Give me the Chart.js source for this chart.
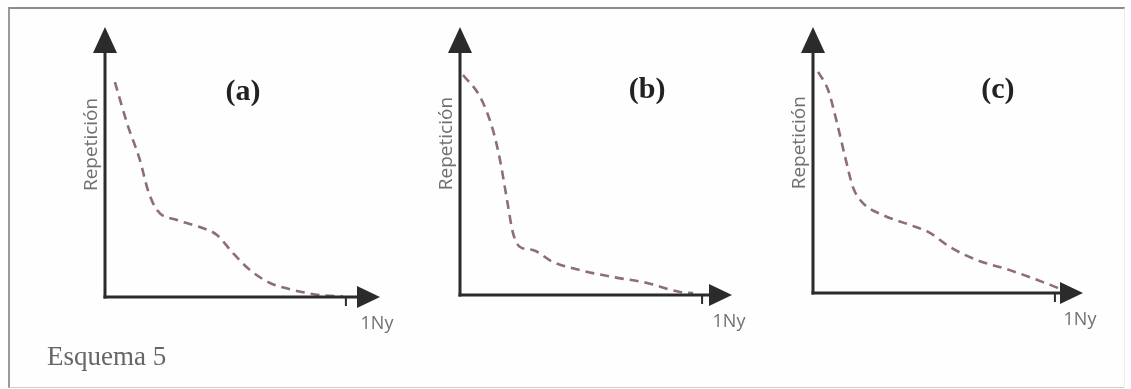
<!DOCTYPE html>
<html>
<head>
<meta charset="utf-8">
<script src="https://cdn.jsdelivr.net/npm/chart.js@4/dist/chart.umd.min.js"></script>
<style>
  html, body { margin: 0; padding: 0; background: #ffffff; }
  #stage { position: relative; width: 1131px; height: 389px; overflow: hidden; background: #fefefe; }
  #frame {
    position: absolute; left: 8px; top: 7px; width: 1114px; height: 378px;
    border-top: 2px solid #8c8c8c; border-left: 2px solid #9a9a9a;
    border-bottom: 1px solid #cfcfcf; border-right: 1px solid #ececec;
  }
  canvas { position: absolute; left: 0; top: 0; }
  #caption {
    position: absolute; left: 47px; top: 341px;
    font-family: "Liberation Serif", serif; font-size: 27px; color: #666666;
    line-height: 30px; white-space: nowrap;
  }
</style>
</head>
<body>
<div id="stage">
  <div id="frame"></div>
  <canvas id="chartA" width="1131" height="389"></canvas>
  <canvas id="chartB" width="1131" height="389"></canvas>
  <canvas id="chartC" width="1131" height="389"></canvas>
  <div id="caption">Esquema 5</div>
</div>
<script>
// Texts of the scheme
const panelLabels = ['(a)', '(b)', '(c)'];
const yAxisTitle = 'Repetición';
const xEndLabel = '1Ny';
const captionText = 'Esquema 5';

// Curve (a): repetition against position, with a shoulder in the middle
const curveAx = [3.6, 8.0, 12.7, 15.6, 18.9, 26.2, 34.5, 40.7, 46.5, 52.7, 60.0, 68.4, 78.2, 86.5];
const curveAy = [79.6, 64.4, 50.7, 39.6, 32.2, 28.5, 25.9, 23.0, 16.3, 10.0, 5.2, 2.6, 0.7, 0.2];

// Curve (b): steep drop then a long flat tail
const curveBx = [1.1, 7.4, 12.1, 14.7, 17.3, 19.5, 22.1, 26.8, 34.2, 44.1, 56.3, 68.8, 80.9, 85.7];
const curveBy = [82.1, 73.9, 61.6, 50.4, 35.4, 23.1, 17.9, 16.8, 12.3, 9.3, 6.7, 4.5, 1.1, 0.7];

// Curve (c): steep drop then a gradual decline
const curveCx = [1.9, 5.6, 8.9, 11.9, 14.8, 18.5, 25.9, 35.9, 43.3, 50.7, 60.7, 72.9, 85.2, 92.6];
const curveCy = [83.1, 76.3, 63.9, 51.1, 39.8, 33.8, 29.3, 25.6, 22.6, 17.3, 12.4, 8.6, 4.1, 1.1];

// Position of the "1Ny" tick on each x axis (axis units)
const tickValues = [87.6, 89.0, 89.6];

document.getElementById('caption').textContent = captionText;

// Placement of each panel's plot area on the page (pixels) and of its label
const panels = [
  { id: 'chartA', area: { left: 105, top: 27, right: 380, bottom: 297 }, labelAt: [50.2, 75.9], xs: curveAx, ys: curveAy },
  { id: 'chartB', area: { left: 460, top: 27, right: 732, bottom: 295 }, labelAt: [68.8, 76.5], xs: curveBx, ys: curveBy },
  { id: 'chartC', area: { left: 813, top: 27, right: 1083, bottom: 293 }, labelAt: [68.5, 76.3], xs: curveCx, ys: curveCy }
];

const AXIS_COLOR = '#2b2b2b';
const CURVE_COLOR = '#8e6d75';

// Draws the arrowed axes, the end tick and the panel texts
const schemePlugin = {
  id: 'scheme',
  afterDatasetsDraw(chart, args, opts) {
    const ctx = chart.ctx;
    const xs = chart.scales.x, ys = chart.scales.y;
    const x0 = xs.getPixelForValue(0), y0 = ys.getPixelForValue(0);
    const xTip = xs.getPixelForValue(100), yTip = ys.getPixelForValue(100);
    ctx.save();
    ctx.strokeStyle = AXIS_COLOR;
    ctx.fillStyle = AXIS_COLOR;
    ctx.lineWidth = 3;
    ctx.lineCap = 'butt';
    // vertical axis
    ctx.beginPath();
    ctx.moveTo(x0, y0 + 1.5);
    ctx.lineTo(x0, yTip + 22);
    ctx.stroke();
    ctx.beginPath();
    ctx.moveTo(x0, yTip);
    ctx.lineTo(x0 - 12, yTip + 26);
    ctx.lineTo(x0 + 12, yTip + 26);
    ctx.closePath();
    ctx.fill();
    // horizontal axis
    ctx.beginPath();
    ctx.moveTo(x0 - 1.5, y0);
    ctx.lineTo(xTip - 20, y0);
    ctx.stroke();
    ctx.beginPath();
    ctx.moveTo(xTip, y0);
    ctx.lineTo(xTip - 23, y0 - 11);
    ctx.lineTo(xTip - 23, y0 + 11);
    ctx.closePath();
    ctx.fill();
    // end tick
    const tx = xs.getPixelForValue(opts.tick);
    ctx.lineWidth = 2;
    ctx.beginPath();
    ctx.moveTo(tx, y0);
    ctx.lineTo(tx, y0 + 9);
    ctx.stroke();
    // panel label
    ctx.fillStyle = '#222222';
    ctx.font = 'bold 30px "Liberation Serif", serif';
    ctx.textAlign = 'center';
    ctx.textBaseline = 'middle';
    ctx.fillText(opts.label, xs.getPixelForValue(opts.labelAt[0]), ys.getPixelForValue(opts.labelAt[1]));
    // axis titles
    ctx.fillStyle = '#707070';
    ctx.font = '18px "Open Sans", sans-serif';
    ctx.textBaseline = 'alphabetic';
    ctx.fillText(xEndLabel, xTip - 3, y0 + 32);
    ctx.textBaseline = 'middle';
    ctx.font = '19px "Open Sans", sans-serif';
    ctx.translate(x0 - 13, ys.getPixelForValue(56.5));
    ctx.rotate(-Math.PI / 2);
    ctx.fillText(yAxisTitle, 0, 0);
    ctx.restore();
  }
};

panels.forEach((p, i) => {
  const points = p.xs.map((x, k) => ({ x: x, y: p.ys[k] }));
  new Chart(document.getElementById(p.id), {
    type: 'line',
    data: {
      datasets: [{
        data: points,
        borderColor: CURVE_COLOR,
        borderWidth: 2.6,
        borderDash: [9, 6],
        pointRadius: 0,
        fill: false,
        cubicInterpolationMode: 'monotone',
        clip: false
      }]
    },
    options: {
      responsive: false,
      animation: false,
      events: [],
      layout: {
        padding: { left: p.area.left, top: p.area.top, right: 1131 - p.area.right, bottom: 389 - p.area.bottom }
      },
      scales: {
        x: { type: 'linear', min: 0, max: 100, display: false },
        y: { type: 'linear', min: 0, max: 100, display: false }
      },
      plugins: {
        legend: { display: false },
        tooltip: { enabled: false },
        scheme: { label: panelLabels[i], labelAt: p.labelAt, tick: tickValues[i] }
      }
    },
    plugins: [schemePlugin]
  });
});
</script>
</body>
</html>
